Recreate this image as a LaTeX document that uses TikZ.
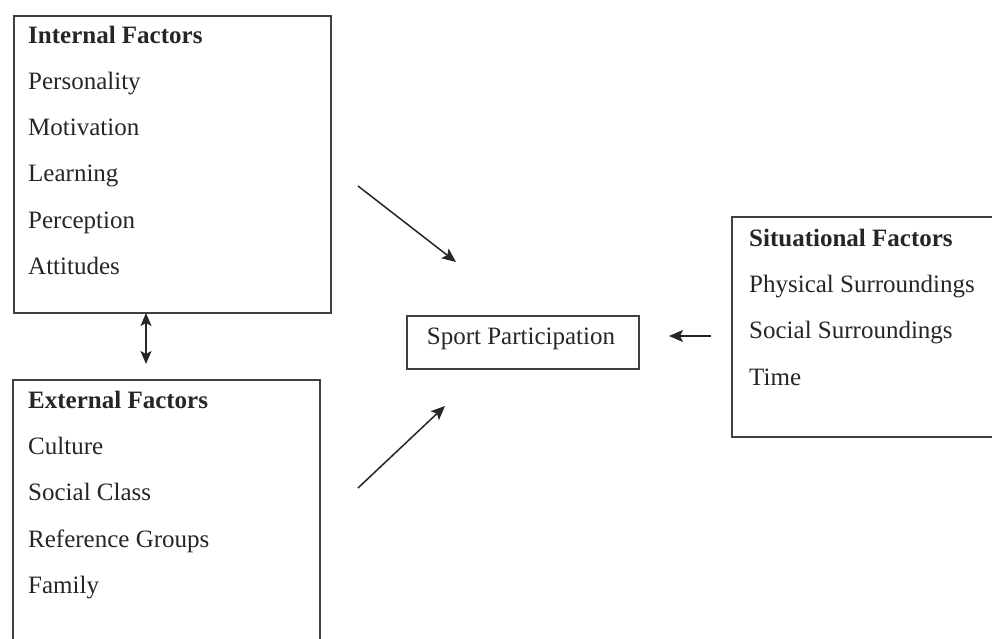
\documentclass[tikz,border=0pt]{standalone}
\usepackage{fontspec}
\setmainfont{Liberation Serif}
\usetikzlibrary{arrows.meta}
\begin{document}
\begin{tikzpicture}[x=1pt,y=-1pt,
  frame/.style={draw=black!75, line width=1.6pt},
  openframe/.style={draw=none, inner sep=0pt, outer sep=0pt},
  item/.style={anchor=base west, inner sep=0pt, text=black!85, font=\fontsize{25}{30}\selectfont},
  head/.style={item, font=\fontsize{25}{30}\selectfont\bfseries},
  tip/.style={},
  conn/.style={draw=black!85, line width=1.5pt, -{Stealth[length=14pt,width=12pt,inset=3pt]}},
  conn2/.style={draw=black!85, line width=1.5pt, {Stealth[length=13pt,width=11pt,inset=3pt]}-{Stealth[length=13pt,width=11pt,inset=3pt]}}
]
\useasboundingbox[fill=white] (0,0) rectangle (992,639);

% Internal factors box
\node[frame, anchor=north west, minimum width=317pt, minimum height=297pt, inner sep=0pt] (intbox) at (13,15) {};
\node[head] (inthead) at (28,44) {Internal Factors};
\node[item] (i1) at (28,90) {Personality};
\node[item] (i2) at (28,136) {Motivation};
\node[item] (i3) at (28,182) {Learning};
\node[item] (i4) at (28,228) {Perception};
\node[item] (i5) at (28,274) {Attitudes};

% External factors box (open at bottom)
\node[openframe, anchor=north west, minimum width=307pt, minimum height=265pt] (extbox) at (13,380) {};
\draw[frame] (extbox.south west) -- (extbox.north west) -- (extbox.north east) -- (extbox.south east);
\node[head] (exthead) at (28,408) {External Factors};
\node[item] (e1) at (28,454) {Culture};
\node[item] (e2) at (28,500) {Social Class};
\node[item] (e3) at (28,547) {Reference Groups};
\node[item] (e4) at (28,593) {Family};

% Situational factors box (open at right)
\node[openframe, anchor=north west, minimum width=270pt, minimum height=220pt] (sitbox) at (732,217) {};
\draw[frame] (sitbox.north east) -- (sitbox.north west) -- (sitbox.south west) -- (sitbox.south east);
\node[head] (sithead) at (749,246) {Situational Factors};
\node[item] (s1) at (749,292) {Physical Surroundings};
\node[item] (s2) at (749,338) {Social Surroundings};
\node[item] (s3) at (749,385) {Time};

% Sport participation
\node[frame, anchor=north west, minimum width=232pt, minimum height=53pt, inner sep=0pt] (sport) at (406,315) {};
\node[item, anchor=base] (sporttext) at (521,344) {Sport Participation};

% connector end points
\coordinate (a1s) at (358,186);
\coordinate (a1e) at (456,262);
\coordinate (a2s) at (358,488);
\coordinate (a2e) at (445,406);
\coordinate (a3s) at (711,336);
\coordinate (a3e) at (669,336);
\coordinate (dtop) at (146,313);
\coordinate (dbot) at (146,364);

\draw[conn] (a1s) -- (a1e);
\draw[conn] (a2s) -- (a2e);
\draw[conn] (a3s) -- (a3e);
\draw[conn2] (dtop) -- (dbot);
\end{tikzpicture}
\end{document}
